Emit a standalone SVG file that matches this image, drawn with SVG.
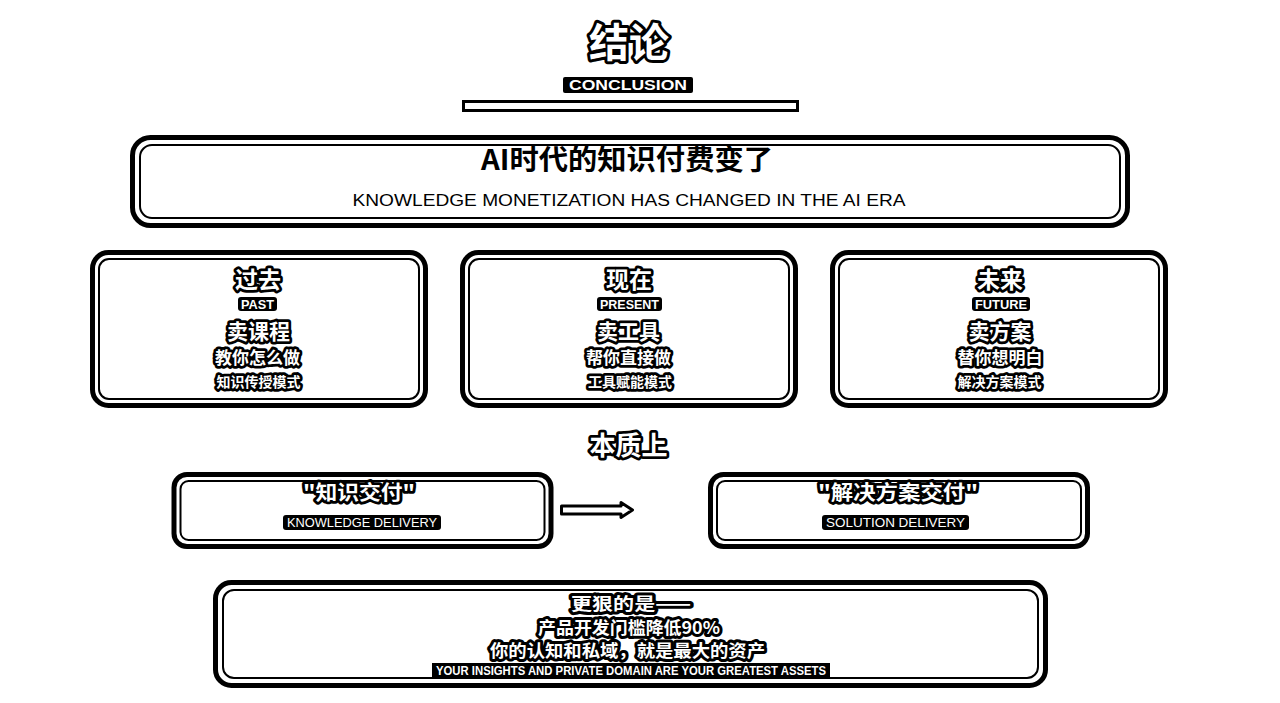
<svg xmlns="http://www.w3.org/2000/svg" width="1280" height="703" viewBox="0 0 1280 703">
<defs>
<style>
.outer{fill:#fff;stroke:#000;stroke-width:5}
.inner{fill:none;stroke:#000;stroke-width:2}
.cjk{font-family:"Noto Sans CJK SC","Noto Sans",sans-serif;font-weight:bold;text-anchor:middle}
.halo{fill:#fff;stroke:#000;stroke-width:5.5;stroke-linejoin:round;paint-order:stroke}
.halo6{fill:#fff;stroke:#000;stroke-width:6;stroke-linejoin:round;paint-order:stroke}
.en{font-family:"Liberation Sans",Arial,sans-serif;text-anchor:middle}
.enb{font-family:"Liberation Sans",Arial,sans-serif;font-weight:bold;text-anchor:middle;fill:#fff}
.tag{fill:#000}
</style>
</defs>
<rect width="1280" height="703" fill="#fff"/>

<g id="header">
<text class="cjk halo6" x="629" y="57" font-size="40">结论</text>
<rect class="tag" x="563" y="77" width="130" height="16" rx="2"/>
<text class="enb" x="628" y="90" font-size="14" textLength="118" lengthAdjust="spacingAndGlyphs">CONCLUSION</text>
<rect x="463.5" y="101.5" width="334" height="9" fill="#fff" stroke="#000" stroke-width="3"/>
</g>

<g id="main-title">
<rect class="outer" x="132.5" y="137.5" width="995" height="88" rx="18"/>
<rect class="inner" x="140" y="145" width="980" height="73" rx="12"/>
<text class="cjk" x="627" y="170" font-size="28" textLength="292" lengthAdjust="spacingAndGlyphs" fill="#000">AI时代的知识付费变了</text>
<text class="en" x="629" y="206" font-size="16" textLength="553" lengthAdjust="spacingAndGlyphs" fill="#000">KNOWLEDGE MONETIZATION HAS CHANGED IN THE AI ERA</text>
</g>

<g id="past">
<rect class="outer" x="92.5" y="252.5" width="333" height="153" rx="16"/>
<rect class="inner" x="99" y="259" width="320" height="140" rx="10"/>
<text class="cjk halo" x="258" y="288" font-size="23">过去</text>
<rect class="tag" x="238" y="297" width="39" height="14" rx="3"/>
<text class="enb" x="257.5" y="309" font-size="12" textLength="33" lengthAdjust="spacingAndGlyphs">PAST</text>
<text class="cjk halo" x="258.5" y="339" font-size="21">卖课程</text>
<text class="cjk halo" x="257.5" y="364" font-size="17">教你怎么做</text>
<text class="cjk halo" x="258.5" y="387" font-size="14">知识传授模式</text>
</g>

<g id="present">
<rect class="outer" x="462.5" y="252.5" width="333" height="153" rx="16"/>
<rect class="inner" x="469" y="259" width="320" height="140" rx="10"/>
<text class="cjk halo" x="629" y="288" font-size="23">现在</text>
<rect class="tag" x="597" y="297" width="65" height="14" rx="3"/>
<text class="enb" x="629.5" y="309" font-size="12" textLength="59" lengthAdjust="spacingAndGlyphs">PRESENT</text>
<text class="cjk halo" x="628.5" y="339" font-size="21">卖工具</text>
<text class="cjk halo" x="628.5" y="364" font-size="17">帮你直接做</text>
<text class="cjk halo" x="630" y="387" font-size="14">工具赋能模式</text>
</g>

<g id="future">
<rect class="outer" x="832.5" y="252.5" width="333" height="153" rx="16"/>
<rect class="inner" x="839" y="259" width="320" height="140" rx="10"/>
<text class="cjk halo" x="1000" y="288" font-size="23">未来</text>
<rect class="tag" x="972" y="297" width="58" height="14" rx="3"/>
<text class="enb" x="1001" y="309" font-size="12" textLength="52" lengthAdjust="spacingAndGlyphs">FUTURE</text>
<text class="cjk halo" x="1000" y="339" font-size="21">卖方案</text>
<text class="cjk halo" x="1000" y="364" font-size="17">替你想明白</text>
<text class="cjk halo" x="999.5" y="387" font-size="14">解决方案模式</text>
</g>

<g id="essence">
<text class="cjk halo" x="628.5" y="455" font-size="26">本质上</text>
</g>

<g id="knowledge-delivery">
<rect class="outer" x="174" y="474.5" width="377" height="72" rx="13"/>
<rect class="inner" x="180.5" y="481" width="364" height="59" rx="8" stroke-width="1.5"/>
<text class="cjk halo" x="359" y="500" font-size="20" textLength="112" lengthAdjust="spacingAndGlyphs">"知识交付"</text>
<rect class="tag" x="283" y="515" width="158" height="15" rx="3"/>
<text class="en" x="362" y="527" font-size="13.5" textLength="150" lengthAdjust="spacingAndGlyphs" fill="#fff">KNOWLEDGE DELIVERY</text>
</g>

<g id="solution-delivery">
<rect class="outer" x="710.5" y="474.5" width="377" height="72" rx="13"/>
<rect class="inner" x="717" y="481" width="364" height="59" rx="8" stroke-width="2.5"/>
<text class="cjk halo" x="898" y="500" font-size="20" textLength="160" lengthAdjust="spacingAndGlyphs">"解决方案交付"</text>
<rect class="tag" x="822" y="515" width="147" height="15" rx="3"/>
<text class="en" x="895.5" y="527" font-size="13.5" textLength="139" lengthAdjust="spacingAndGlyphs" fill="#fff">SOLUTION DELIVERY</text>
</g>

<g id="connectors">
<path d="M561.5,506 H621 V502.5 L632.5,510 L621,517.5 V514 H561.5 Z" fill="#fff" stroke="#000" stroke-width="3" stroke-linejoin="round"/>
</g>

<g id="conclusion-box">
<rect class="outer" x="215.5" y="582.5" width="830" height="103" rx="16"/>
<rect class="inner" x="223" y="590" width="815" height="88" rx="11" stroke-width="2.5"/>
<text class="cjk halo6" x="631" y="610" font-size="17.5" textLength="120" lengthAdjust="spacingAndGlyphs">更狠的是——</text>
<text class="cjk halo6" x="629" y="634" font-size="17.5" textLength="182" lengthAdjust="spacingAndGlyphs">产品开发门槛降低90%</text>
<text class="cjk halo6" x="627.5" y="657" font-size="17.5" textLength="275" lengthAdjust="spacingAndGlyphs">你的认知和私域，就是最大的资产</text>
<rect class="tag" x="432" y="663" width="398" height="14"/>
<text class="enb" x="631" y="675" font-size="12" textLength="390" lengthAdjust="spacingAndGlyphs">YOUR INSIGHTS AND PRIVATE DOMAIN ARE YOUR GREATEST ASSETS</text>
</g>
</svg>
